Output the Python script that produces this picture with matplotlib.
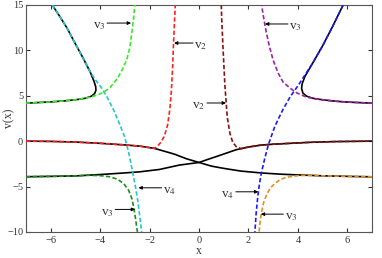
import matplotlib
matplotlib.use('Agg')
import matplotlib.pyplot as plt

plt.rcParams['font.family'] = ['Liberation Serif', 'DejaVu Serif']
plt.rcParams['mathtext.fontset'] = 'stix'

# black solid branches of v(x)
black_ul_x = [-7.0, -6.5, -6.0, -5.5, -5.0, -4.6, -4.35, -4.22, -4.17, -4.18, -4.25, -4.4, -4.7, -5.0, -5.35, -5.65, -5.94]
black_ul_y = [4.18, 4.25, 4.32, 4.42, 4.55, 4.72, 4.95, 5.25, 5.6, 6.0, 6.6, 7.6, 9.2, 10.7, 12.5, 13.8, 15.0]
black_ur_x = [7.0, 6.5, 6.0, 5.5, 5.0, 4.6, 4.35, 4.2, 4.15, 4.17, 4.28, 4.6, 5.0, 5.4, 5.83]
black_ur_y = [4.18, 4.24, 4.3, 4.4, 4.55, 4.72, 4.95, 5.3, 5.8, 6.3, 7.1, 8.6, 10.5, 12.6, 15.0]
black_a_x = [-7, -6, -5, -4, -3, -2.4, -1.8, -1.0, -0.5, 0, 0.5, 1.0, 1.7, 2.5, 3.3, 4.0, 5.0, 6.0, 7]
black_a_y = [0, -0.03, -0.1, -0.24, -0.42, -0.55, -0.8, -1.43, -1.95, -2.35, -2.75, -3.0, -3.3, -3.5, -3.64, -3.72, -3.82, -3.88, -3.93]
black_b_x = [-7, -6, -5, -4, -3, -2.4, -1.6, -0.8, 0, 0.35, 0.7, 1.0, 1.5, 2.0, 2.5, 3.0, 3.7, 4.5, 5.5, 7]
black_b_y = [-3.92, -3.88, -3.83, -3.68, -3.5, -3.38, -3.12, -2.64, -2.35, -2.02, -1.7, -1.42, -0.95, -0.65, -0.44, -0.34, -0.24, -0.13, -0.05, 0]

# dashed single-root branches
cyan_x = [-5.94, -5.65, -5.35, -5.0, -4.7, -4.4, -4.15, -3.95, -3.72, -3.45, -3.2, -3.0, -2.85, -2.7, -2.58, -2.48, -2.4, -2.32]
cyan_y = [15, 13.8, 12.5, 10.7, 9.2, 7.6, 6.6, 5.9, 4.85, 3.4, 1.8, 0.4, -1.2, -3.2, -4.9, -6.5, -8.2, -10]
lime_x = [-7, -6.5, -6, -5.5, -5, -4.6, -4.3, -4.05, -3.85, -3.6, -3.3, -3.1, -2.92, -2.8, -2.72, -2.65, -2.6]
lime_y = [4.18, 4.25, 4.32, 4.42, 4.55, 4.72, 4.92, 5.15, 5.4, 5.9, 6.9, 7.9, 9.0, 10.3, 11.9, 13.4, 15]
red_x = [-7, -6, -5, -4, -3, -2.4, -1.8, -1.68, -1.55, -1.4, -1.27, -1.18, -1.12, -1.07, -1.03, -0.99, -0.96]
red_y = [0, -0.03, -0.1, -0.24, -0.42, -0.55, -0.8, -0.55, -0.15, 0.55, 1.8, 3.5, 5.5, 8.0, 10.8, 13.3, 15]
dred_x = [0.9, 0.92, 0.98, 1.05, 1.14, 1.25, 1.36, 1.5, 1.7, 2.0, 2.5, 3.0, 3.7, 4.5, 5.5, 7]
dred_y = [15, 13.3, 9.7, 6.0, 2.7, 0.85, -0.1, -0.6, -0.83, -0.65, -0.44, -0.34, -0.24, -0.13, -0.05, 0]
mag_x = [7.0, 6.5, 6.0, 5.5, 5.0, 4.6, 4.3, 3.96, 3.7, 3.4, 3.2, 3.0, 2.85, 2.72, 2.62, 2.53]
mag_y = [4.18, 4.24, 4.3, 4.4, 4.55, 4.7, 4.9, 5.3, 5.8, 6.5, 7.5, 8.9, 10.4, 12.0, 13.5, 15]
blue_x = [5.83, 5.4, 5.0, 4.6, 4.36, 4.1, 3.9, 3.68, 3.4, 3.2, 3.05, 2.92, 2.8, 2.66, 2.53, 2.45, 2.38, 2.31, 2.26]
blue_y = [15, 12.6, 10.5, 8.6, 7.6, 6.5, 5.7, 4.85, 3.5, 2.4, 1.5, 0.5, -0.44, -1.9, -3.4, -4.6, -6.0, -8.0, -10]
dgreen_x = [-7, -6, -5, -4.5, -4.0, -3.6, -3.3, -3.05, -2.85, -2.72, -2.64, -2.57, -2.52, -2.49]
dgreen_y = [-3.92, -3.88, -3.83, -3.76, -3.8, -3.93, -4.2, -4.66, -5.4, -6.3, -7.3, -8.5, -9.5, -10]
orange_x = [7, 6, 5, 4.5, 4.0, 3.6, 3.3, 3.1, 2.9, 2.75, 2.62, 2.53, 2.47, 2.43]
orange_y = [-3.93, -3.88, -3.82, -3.76, -3.8, -3.95, -4.2, -4.6, -5.1, -5.8, -6.7, -7.8, -8.9, -10]

# labels: (text, arrow tail x, arrow tip x, y, which side the text sits)
labels = [
    ('v$_3$', -3.72, -2.75, 13.0, 'right'),
    ('v$_2$', -0.24, -1.01, 10.8, 'left'),
    ('v$_2$', 0.32, 1.09, 4.2, 'right'),
    ('v$_3$', 3.6, 2.67, 12.9, 'left'),
    ('v$_4$', -1.51, -2.45, -5.14, 'left'),
    ('v$_3$', -3.39, -2.59, -7.52, 'right'),
    ('v$_4$', 1.49, 2.40, -5.58, 'right'),
    ('v$_3$', 3.41, 2.5, -8.04, 'left'),
]

fig = plt.figure(figsize=(3.82, 2.58), dpi=100)
ax = fig.add_axes([0.068, 0.101, 0.906, 0.880])

for xs, ys in [(black_ul_x, black_ul_y), (black_ur_x, black_ur_y),
               (black_a_x, black_a_y), (black_b_x, black_b_y)]:
    ax.plot(xs, ys, color='black', lw=1.2, zorder=2)

dashed = [
    (cyan_x, cyan_y, '#22c8cc'),
    (lime_x, lime_y, '#33ee22'),
    (red_x, red_y, '#ff2222'),
    (dred_x, dred_y, '#8b1010'),
    (mag_x, mag_y, '#a020a8'),
    (blue_x, blue_y, '#1a1aff'),
    (dgreen_x, dgreen_y, '#1c8c1c'),
    (orange_x, orange_y, '#e09020'),
]
for xs, ys, c in dashed:
    ax.plot(xs, ys, color=c, lw=1.2, ls=(0, (2.6, 1.4)), zorder=3)

for txt, tail, tip, yy, side in labels:
    ax.annotate('', xy=(tip, yy), xytext=(tail, yy),
                arrowprops=dict(arrowstyle='-|>', color='black', lw=0.7,
                                mutation_scale=5, shrinkA=0, shrinkB=0))
    if side == 'right':
        ax.text(tail - 0.05, yy - 0.35, txt, ha='right', va='center', fontsize=9.5, color='#333333')
    else:
        ax.text(tail + 0.05, yy - 0.35, txt, ha='left', va='center', fontsize=9.5, color='#333333')

ax.set_xlim(-7, 7)
ax.set_ylim(-10, 15)
ax.set_xticks([-6, -4, -2, 0, 2, 4, 6])
ax.set_yticks([-10, -5, 0, 5, 10, 15])
ax.tick_params(direction='in', top=True, right=True, length=3, labelsize=7.5, colors='#333333')
ax.tick_params(axis='x', pad=3)
ax.tick_params(axis='y', pad=2)
for s in ax.spines.values():
    s.set_color('#555555')
    s.set_linewidth(0.8)
ax.set_xlabel('x', fontsize=8.5, labelpad=0, color='#333333')
ax.set_ylabel('v(x)', fontsize=8.5, color='#333333', va='center')
ax.yaxis.set_label_coords(-0.047, 0.5)

plt.savefig('out.png', dpi=100)
